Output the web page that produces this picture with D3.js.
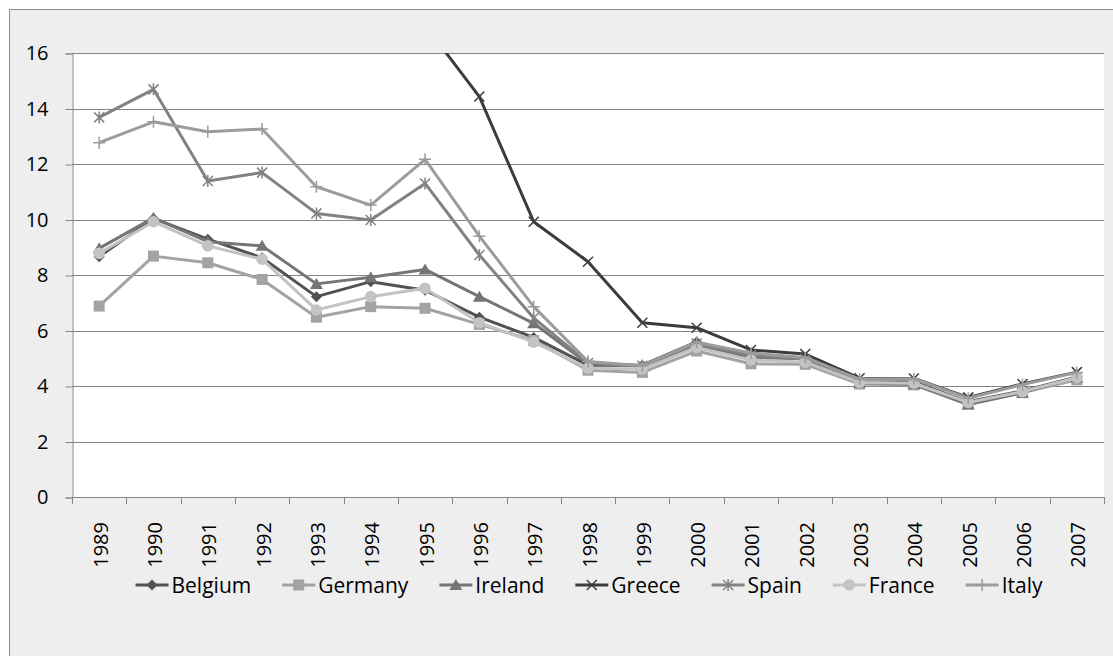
<!DOCTYPE html>
<html>
<head>
<meta charset="utf-8">
<script src="https://cdn.jsdelivr.net/npm/d3@7"></script>
<style>
  html, body { margin: 0; padding: 0; background: #ffffff; }
  svg { display: block; }
  text { font-family: "Open Sans", "Liberation Sans", sans-serif; }
</style>
</head>
<body>
<svg id="chart" width="1113" height="656"></svg>
<script>
// Long-term interest rates (%), 1989-2007
const years = ["1989","1990","1991","1992","1993","1994","1995","1996","1997","1998",
               "1999","2000","2001","2002","2003","2004","2005","2006","2007"];
const yTicks = [0, 2, 4, 6, 8, 10, 12, 14, 16];

const belgium = [8.66, 10.04, 9.29, 8.62, 7.22, 7.76, 7.45, 6.48, 5.75, 4.75, 4.75, 5.59, 5.06, 4.98, 4.14, 4.15, 3.43, 3.82, 4.33];
const germany = [6.88, 8.68, 8.44, 7.84, 6.48, 6.86, 6.80, 6.22, 5.64, 4.57, 4.49, 5.26, 4.80, 4.78, 4.07, 4.04, 3.35, 3.76, 4.22];
const ireland = [8.96, 10.06, 9.20, 9.05, 7.68, 7.92, 8.20, 7.22, 6.26, 4.80, 4.71, 5.48, 5.01, 4.99, 4.13, 4.06, 3.33, 3.76, 4.31];
const greece  = [null, null, null, null, null, null, 17.0, 14.43, 9.92, 8.48, 6.28, 6.10, 5.30, 5.15, 4.28, 4.27, 3.59, 4.07, 4.50];
const spain   = [13.68, 14.69, 11.39, 11.69, 10.22, 9.98, 11.30, 8.72, 6.45, 4.83, 4.73, 5.53, 5.12, 4.96, 4.12, 4.10, 3.39, 3.78, 4.31];
const france  = [8.78, 9.92, 9.05, 8.57, 6.74, 7.22, 7.52, 6.28, 5.58, 4.64, 4.61, 5.39, 4.94, 4.86, 4.13, 4.10, 3.41, 3.80, 4.30];
const italy   = [12.77, 13.52, 13.16, 13.26, 11.18, 10.52, 12.17, 9.40, 6.86, 4.88, 4.73, 5.58, 5.19, 5.03, 4.25, 4.26, 3.56, 4.05, 4.49];

const seriesNames = ["Belgium", "Germany", "Ireland", "Greece", "Spain", "France", "Italy"];
const seriesValues = [belgium, germany, ireland, greece, spain, france, italy];
const seriesColors = ["#525252", "#a3a3a3", "#757575", "#3c3c3c", "#828282", "#c3c3c3", "#9c9c9c"];
const seriesMarkers = ["diamond", "square", "triangle", "x", "asterisk", "circle", "plus"];

const svg = d3.select("#chart");
const plot = { left: 72, right: 1104, top: 53, bottom: 497 };

// chart area background with its border
svg.append("rect")
  .attr("x", 9.5).attr("y", 9.5)
  .attr("width", 1300).attr("height", 800)
  .attr("fill", "#eeeeee").attr("stroke", "#8c8c8c").attr("stroke-width", 1);

svg.append("rect")
  .attr("x", plot.left).attr("y", plot.top)
  .attr("width", plot.right - plot.left).attr("height", plot.bottom - plot.top)
  .attr("fill", "#ffffff");

const x = d3.scaleBand().domain(years).range([plot.left, plot.right]).padding(0);
const y = d3.scaleLinear().domain([0, 16]).range([plot.bottom, plot.top]);
const cx = d => x(d) + x.bandwidth() / 2;

// horizontal gridlines
svg.append("g").selectAll("line").data(yTicks.filter(v => v > 0)).join("line")
  .attr("x1", plot.left).attr("x2", plot.right)
  .attr("y1", d => Math.round(y(d)) + 0.5).attr("y2", d => Math.round(y(d)) + 0.5)
  .attr("stroke", "#868686").attr("stroke-width", 1);

// y axis
const yAxis = svg.append("g")
  .attr("transform", `translate(${plot.left + 0.5},0.5)`)
  .call(d3.axisLeft(y).tickValues(yTicks).tickSize(7).tickPadding(17).tickFormat(d3.format("d")));
yAxis.select(".domain").attr("stroke", "#868686");
yAxis.selectAll(".tick line").attr("stroke", "#868686");
yAxis.selectAll(".tick text")
  .attr("font-size", 20).attr("fill", "#000")
  .style("font-family", "'Open Sans', sans-serif");

// x axis: baseline, boundary ticks and rotated year labels
const xg = svg.append("g");
xg.append("line")
  .attr("x1", plot.left).attr("x2", plot.right)
  .attr("y1", plot.bottom + 0.5).attr("y2", plot.bottom + 0.5)
  .attr("stroke", "#868686");
const boundaries = years.map(d => x(d)).concat([plot.right]);
xg.selectAll("line.tick").data(boundaries).join("line")
  .attr("class", "tick")
  .attr("x1", d => Math.round(d) + 0.5).attr("x2", d => Math.round(d) + 0.5)
  .attr("y1", plot.bottom).attr("y2", plot.bottom + 7)
  .attr("stroke", "#868686");
xg.selectAll("text").data(years).join("text")
  .attr("transform", d => `translate(${cx(d) + 1},522) rotate(-90)`)
  .attr("text-anchor", "end")
  .attr("dominant-baseline", "central")
  .attr("font-size", 20).attr("fill", "#000")
  .text(d => d);

// marker shapes
function drawMarker(g, type, color) {
  switch (type) {
    case "diamond":
      g.append("path").attr("d", "M0,-5.5L5.5,0L0,5.5L-5.5,0Z").attr("fill", color);
      break;
    case "square":
      g.append("rect").attr("x", -5.5).attr("y", -5.5).attr("width", 11).attr("height", 11).attr("fill", color);
      break;
    case "triangle":
      g.append("path").attr("d", "M0,-6L6.5,5L-6.5,5Z").attr("fill", color);
      break;
    case "circle":
      g.append("circle").attr("r", 5.8).attr("fill", color);
      break;
    case "x":
      g.append("path").attr("d", "M-5,-5L5,5M-5,5L5,-5").attr("stroke", color).attr("stroke-width", 1.5).attr("fill", "none");
      break;
    case "asterisk":
      g.append("path").attr("d", "M-5,-5L5,5M-5,5L5,-5M0,-6L0,6").attr("stroke", color).attr("stroke-width", 1.5).attr("fill", "none");
      break;
    case "plus":
      g.append("path").attr("d", "M-6,0L6,0M0,-6L0,6").attr("stroke", color).attr("stroke-width", 1.5).attr("fill", "none");
      break;
  }
}

// series, clipped to the plot area
svg.append("clipPath").attr("id", "plotClip")
  .append("rect")
  .attr("x", plot.left - 10).attr("y", plot.top)
  .attr("width", plot.right - plot.left + 20).attr("height", plot.bottom - plot.top + 10);

const seriesLayer = svg.append("g").attr("clip-path", "url(#plotClip)");
const line = d3.line()
  .defined(d => d.v !== null)
  .x(d => cx(d.year))
  .y(d => y(d.v));

seriesNames.forEach((name, i) => {
  const pts = years.map((yr, j) => ({ year: yr, v: seriesValues[i][j] }));
  const g = seriesLayer.append("g").attr("class", "series");
  g.append("path")
    .datum(pts)
    .attr("d", line)
    .attr("fill", "none")
    .attr("stroke", seriesColors[i])
    .attr("stroke-width", 3)
    .attr("stroke-linejoin", "round");
  pts.filter(p => p.v !== null).forEach(p => {
    const m = g.append("g").attr("transform", `translate(${cx(p.year)},${y(p.v)})`);
    drawMarker(m, seriesMarkers[i], seriesColors[i]);
  });
});

// legend
const legend = svg.append("g");
const items = seriesNames.map((name, i) => {
  const gi = legend.append("g");
  gi.append("line").attr("x1", 0).attr("x2", 33).attr("y1", 0).attr("y2", 0)
    .attr("stroke", seriesColors[i]).attr("stroke-width", 3);
  const m = gi.append("g").attr("transform", "translate(16.5,0)");
  drawMarker(m, seriesMarkers[i], seriesColors[i]);
  const t = gi.append("text").attr("x", 36).attr("y", 0)
    .attr("dominant-baseline", "central").attr("font-size", 21).attr("fill", "#000")
    .text(name);
  return { g: gi, w: 36 + t.node().getComputedTextLength() };
});
const gap = 31;
const total = d3.sum(items, d => d.w) + gap * (items.length - 1);
let pos = 589 - total / 2;
items.forEach(it => {
  it.g.attr("transform", `translate(${pos},585)`);
  pos += it.w + gap;
});
</script>
</body>
</html>
